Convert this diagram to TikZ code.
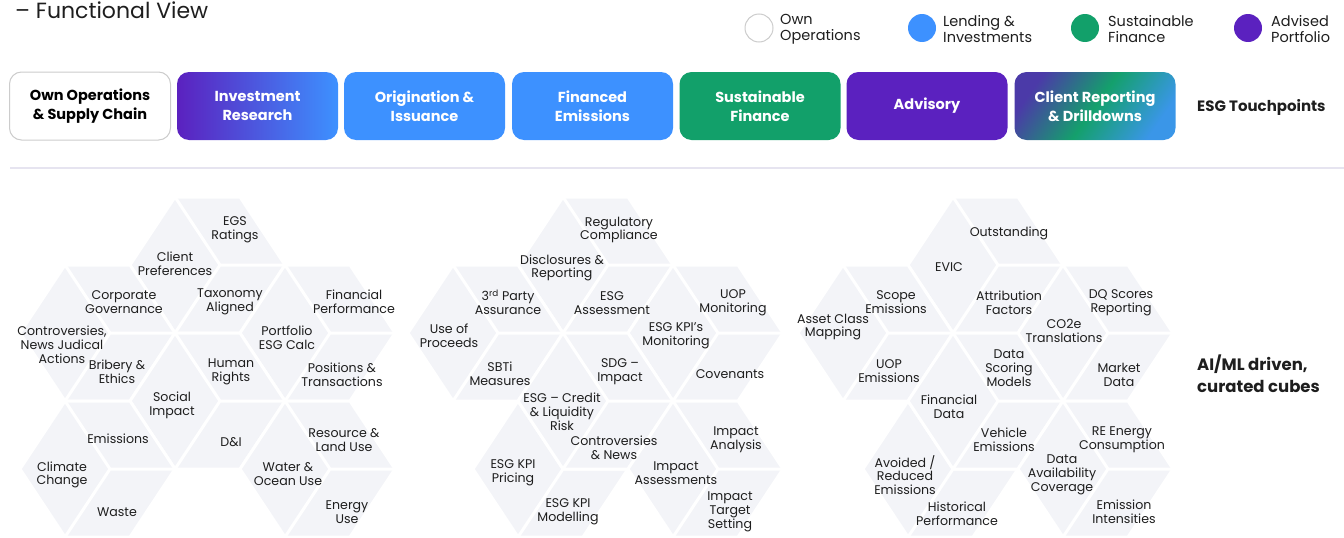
\documentclass[tikz,border=0pt]{standalone}
\usepackage{fontspec}
\setmainfont{Poppins}
\definecolor{hexfill}{HTML}{F3F4F8}
\definecolor{cblue}{HTML}{3D91FF}
\definecolor{cgreen}{HTML}{12A06A}
\definecolor{cpurple}{HTML}{5B21BF}
\definecolor{txt}{HTML}{1E1E1E}
\definecolor{sepcol}{HTML}{E6E4F0}
\definecolor{crA}{HTML}{4B3AA8}
\definecolor{crB}{HTML}{14A06C}
\definecolor{crC}{HTML}{3A96E8}
\pgfdeclarehorizontalshading{crshade}{100bp}{color(0bp)=(crA); color(25bp)=(crA); color(50bp)=(crB); color(75bp)=(crC); color(100bp)=(crC)}
\newcommand\hexcube[2]{%
  \fill[hexfill] (#1,#2) -- ++(45,-68) -- ++(65,0) -- ++(45,68) -- ++(-45,68) -- ++(-65,0) -- cycle;
  \draw[hexline] (#1,#2) -- ++(45,-68) -- ++(65,0) -- ++(45,68) -- ++(-45,68) -- ++(-65,0) -- cycle;
  \draw[hexline] ({#1+45},{#2-68}) -- ({#1+90},#2) -- ({#1+155},#2) ({#1+90},#2) -- ({#1+45},{#2+68});
}
\begin{document}
\begin{tikzpicture}[x=1pt,y=-1pt,
  hexline/.style={white, line width=3pt, line join=round},
  tbox/.style={rounded corners=12pt, minimum width=161pt, minimum height=68pt, inner sep=0pt, align=center, font=\fontsize{14.5}{19}\selectfont\bfseries, text=white},
  htxt/.style={font=\fontsize{12.6}{13.8}\selectfont, align=center, text=txt, inner sep=0pt, yshift=-2pt},
  legdot/.style={circle, minimum size=28pt, inner sep=0pt},
  legtxt/.style={font=\fontsize{14.5}{16}\selectfont, align=left, text=txt, anchor=west, inner sep=0pt},
  sidetxt/.style={font=\fontsize{15.5}{22}\selectfont\bfseries, align=left, text=txt, anchor=west, inner sep=0pt}]
\useasboundingbox (0,0) rectangle (1344,538);
% title
\node[anchor=base west, inner sep=0pt, text=txt, font=\fontsize{22}{26}\selectfont] (title) at (15,18.5) {– Functional View};
% legend
\node[legdot, draw=black!20, line width=1pt, fill=white] (l1) at (759,28) {};
\node[legdot, fill=cblue] (l2) at (922,28) {};
\node[legdot, fill=cgreen] (l3) at (1085,28) {};
\node[legdot, fill=cpurple] (l4) at (1248,28) {};
\node[legtxt] (lt1) at (780,29.5) {Own\\Operations};
\node[legtxt] (lt2) at (943,29.5) {Lending \&\\Investments};
\node[legtxt] (lt3) at (1108,29.5) {Sustainable\\Finance};
\node[legtxt] (lt4) at (1271,29.5) {Advised\\Portfolio};
% touchpoint boxes
\node[tbox, draw=black!20, line width=1pt, fill=white, text=black] (b1) at (90,106) {Own Operations\\\& Supply Chain};
\node[tbox, left color=cpurple, right color=cblue] (b2) at (257.5,106) {Investment\\Research};
\node[tbox, fill=cblue] (b3) at (424.5,106) {Origination \&\\Issuance};
\node[tbox, fill=cblue] (b4) at (592.5,106) {Financed\\Emissions};
\node[tbox, fill=cgreen] (b5) at (760,106) {Sustainable\\Finance};
\node[tbox, fill=cpurple] (b6) at (927,106) {Advisory};
\node[tbox, shading=crshade, shading angle=-35] (b7) at (1095,106) {Client Reporting\\\& Drilldowns};
\node[sidetxt, font=\fontsize{15}{19}\selectfont\bfseries] (tp) at (1197,107) {ESG Touchpoints};
% separator
\draw[sepcol, line width=2pt] (10,168) -- (1344,168);
% cluster 1
\hexcube{130}{265}
\hexcube{20}{333}
\hexcube{240}{333}
\hexcube{130}{401}
\hexcube{20}{469}
\hexcube{240}{469}
% cluster 2
\hexcube{518}{265}
\hexcube{408}{333}
\hexcube{628}{333}
\hexcube{473}{469}
\hexcube{518}{401}
\hexcube{628}{469}
% cluster 3
\hexcube{908}{265}
\hexcube{798}{333}
\hexcube{1018}{333}
\hexcube{863}{469}
\hexcube{908}{401}
\hexcube{1018}{469}
% cluster 1 texts
\node[htxt] (c1a) at (235,228) {EGS\\Ratings};
\node[htxt] (c1b) at (175,262) {Client\\Preferences};
\node[htxt] (c1c) at (230,300) {Taxonomy\\Aligned};
\node[htxt] (c1d) at (124,300) {Corporate\\Governance};
\node[htxt] (c1e) at (62,343) {Controversies,\\News Judical\\Actions};
\node[htxt] (c1f) at (117,370) {Bribery \&\\Ethics};
\node[htxt] (c1g) at (354,300) {Financial\\Performance};
\node[htxt] (c1h) at (287,336) {Portfolio\\ESG Calc};
\node[htxt] (c1i) at (342,373) {Positions \&\\Transactions};
\node[htxt] (c1j) at (231,370) {Human\\Rights};
\node[htxt] (c1k) at (172,403) {Social\\Impact};
\node[htxt] (c1l) at (118,437) {Emissions};
\node[htxt] (c1m) at (231,440) {D\&I};
\node[htxt] (c1n) at (62,473) {Climate\\Change};
\node[htxt] (c1o) at (117,510) {Waste};
\node[htxt] (c1p) at (344,438) {Resource \&\\Land Use};
\node[htxt] (c1q) at (288,472) {Water \&\\Ocean Use};
\node[htxt] (c1r) at (347,510) {Energy\\Use};
% cluster 2 texts
\node[htxt] (c2a) at (619,228) {Regulatory\\Compliance};
\node[htxt] (c2b) at (562,266) {Disclosures \&\\Reporting};
\node[htxt] (c2c) at (508,300) {3\textsuperscript{rd} Party\\Assurance};
\node[htxt] (c2d) at (612,301) {ESG\\Assessment};
\node[htxt] (c2e) at (733,301) {UOP\\Monitoring};
\node[htxt] (c2f) at (449,334) {Use of\\Proceeds};
\node[htxt] (c2g) at (676,334) {ESG KPI’s\\Monitoring};
\node[htxt] (c2h) at (500,372) {SBTi\\Measures};
\node[htxt] (c2i) at (620,370) {SDG –\\Impact};
\node[htxt] (c2j) at (730,372) {Covenants};
\node[htxt] (c2k) at (562,410) {ESG – Credit\\\& Liquidity\\Risk};
\node[htxt] (c2l) at (614,446) {Controversies\\\& News};
\node[htxt] (c2m) at (736,438) {Impact\\Analysis};
\node[htxt] (c2n) at (513,471) {ESG KPI\\Pricing};
\node[htxt] (c2o) at (676,471) {Impact\\Assessments};
\node[htxt] (c2p) at (568,510) {ESG KPI\\Modelling};
\node[htxt] (c2q) at (730,510) {Impact\\Target\\Setting};
% cluster 3 texts
\node[htxt] (c3a) at (1009,231) {Outstanding};
\node[htxt] (c3b) at (949,265) {EVIC};
\node[htxt] (c3c) at (896,300) {Scope\\Emissions};
\node[htxt] (c3d) at (1009,301) {Attribution\\Factors};
\node[htxt] (c3e) at (1121,301) {DQ Scores\\Reporting};
\node[htxt] (c3f) at (833,325) {Asset Class\\Mapping};
\node[htxt] (c3g) at (1064,329) {CO2e\\Translations};
\node[htxt] (c3h) at (889,369) {UOP\\Emissions};
\node[htxt] (c3i) at (1009,366) {Data\\Scoring\\Models};
\node[htxt] (c3j) at (1119,373) {Market\\Data};
\node[htxt] (c3k) at (949,405) {Financial\\Data};
\node[htxt] (c3l) at (1004,438) {Vehicle\\Emissions};
\node[htxt] (c3m) at (1122,438) {RE Energy\\Consumption};
\node[htxt] (c3n) at (905,473) {Avoided /\\Reduced\\Emissions};
\node[htxt] (c3o) at (1062,473) {Data\\Availability\\Coverage};
\node[htxt] (c3p) at (957,512) {Historical\\Performance};
\node[htxt] (c3q) at (1124,510) {Emission\\Intensities};
% side label
\node[sidetxt, font=\fontsize{16.5}{22}\selectfont\bfseries] (ai) at (1197,374) {AI/ML driven,\\curated cubes};
\end{tikzpicture}
\end{document}
